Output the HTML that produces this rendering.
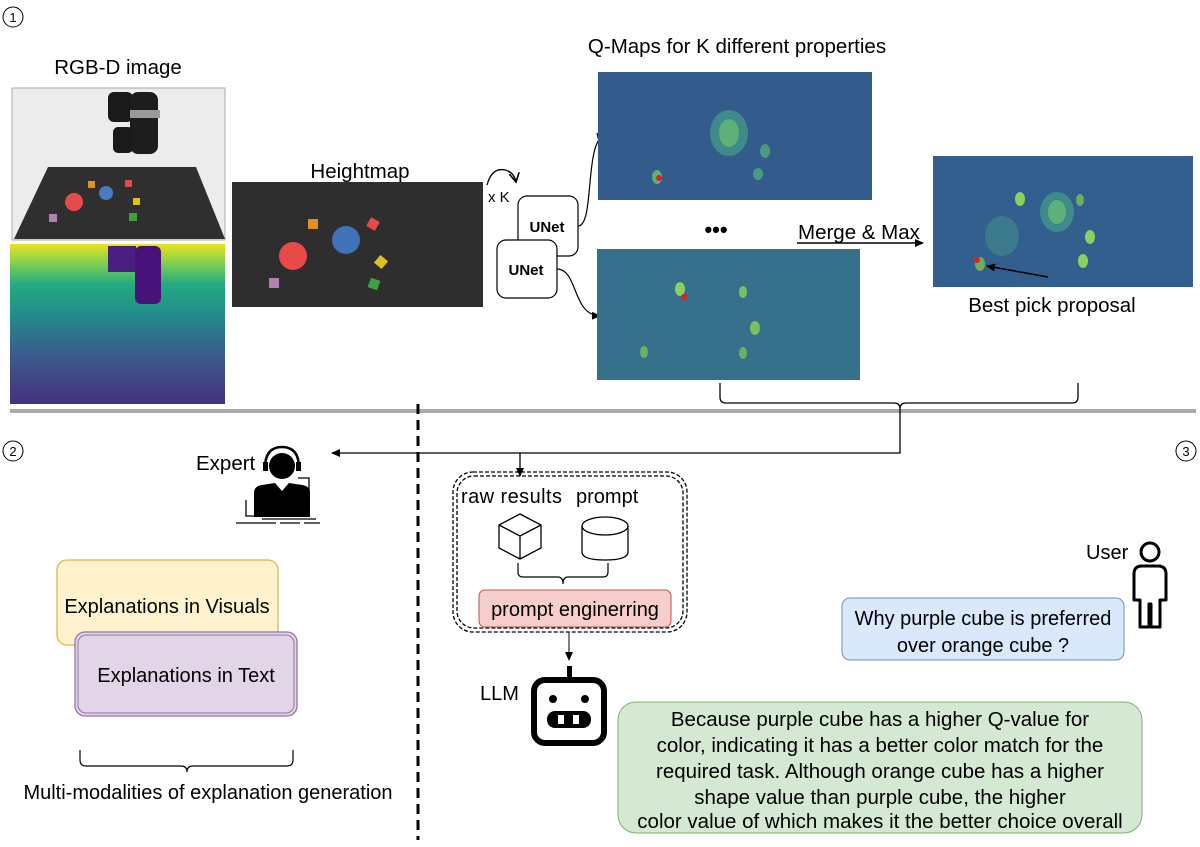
<!DOCTYPE html>
<html><head><meta charset="utf-8"><style>
html,body{margin:0;padding:0;background:#fff;}
svg{display:block;font-family:"Liberation Sans",Arial,sans-serif;}
</style></head><body>
<svg width="1200" height="847" viewBox="0 0 1200 847" xmlns="http://www.w3.org/2000/svg">
<defs>
<marker id="ar" markerWidth="10" markerHeight="10" refX="8" refY="5" orient="auto" markerUnits="userSpaceOnUse"><path d="M0,1 L9,5 L0,9 Z" fill="#000"/></marker>
<marker id="ar2" markerWidth="12" markerHeight="12" refX="10" refY="6" orient="auto" markerUnits="userSpaceOnUse"><path d="M1,1 L10,6 L1,11" fill="none" stroke="#000" stroke-width="1.6"/></marker>
<linearGradient id="depth" x1="0" y1="0" x2="0" y2="1">
<stop offset="0" stop-color="#e8e420"/><stop offset="0.12" stop-color="#7fd050"/><stop offset="0.25" stop-color="#25ab80"/><stop offset="0.45" stop-color="#238a8c"/><stop offset="0.7" stop-color="#3a5a8c"/><stop offset="1" stop-color="#46317e"/>
</linearGradient>
</defs>

<circle cx="13" cy="17" r="10" fill="none" stroke="#000" stroke-width="1"/><text x="13" y="22" font-size="13" text-anchor="middle">1</text>
<circle cx="13" cy="451" r="10" fill="none" stroke="#000" stroke-width="1"/><text x="13" y="456" font-size="13" text-anchor="middle">2</text>
<circle cx="1186" cy="451" r="10" fill="none" stroke="#000" stroke-width="1"/><text x="1186" y="456" font-size="13" text-anchor="middle">3</text>

<text x="118" y="74" font-size="20.5" text-anchor="middle">RGB-D image</text>
<rect x="12" y="88" width="213" height="152" fill="#ececec" stroke="#aaa"/>
<polygon points="48,167 196,167 225,239 14,239" fill="#2f2f2f"/>
<rect x="108" y="92" width="25" height="30" rx="6" fill="#1a1a1a"/>
<rect x="130" y="92" width="28" height="62" rx="8" fill="#1d1d1d"/>
<rect x="113" y="127" width="20" height="26" rx="5" fill="#1a1a1a"/>
<rect x="130" y="110" width="30" height="8" fill="#999"/>
<circle cx="74" cy="202" r="9" fill="#e84a4a"/><circle cx="106" cy="193" r="7" fill="#4a7ac0"/>
<rect x="88" y="181" width="7" height="7" fill="#e09020"/><rect x="125" y="180" width="7" height="7" fill="#e84a4a"/>
<rect x="133" y="198" width="7" height="7" fill="#e0c020"/><rect x="129" y="213" width="8" height="8" fill="#40a040"/><rect x="49" y="214" width="8" height="8" fill="#b080b0"/>
<rect x="10" y="244" width="215" height="160" fill="url(#depth)"/>
<rect x="108" y="246" width="28" height="26" fill="#4a1f80"/><rect x="135" y="246" width="26" height="58" rx="6" fill="#47127a"/>

<text x="360" y="178" font-size="20.5" text-anchor="middle">Heightmap</text>
<rect x="232" y="182" width="251" height="125" fill="#2e2e2e"/>
<circle cx="293" cy="256" r="14" fill="#e84a4a"/><circle cx="346" cy="240" r="14" fill="#3f72b8"/>
<rect x="308" y="219" width="10" height="10" fill="#e09020"/><rect x="368" y="219" width="10" height="10" fill="#e84a4a" transform="rotate(30 373 224)"/>
<rect x="376" y="257" width="10" height="10" fill="#e0c020" transform="rotate(40 381 262)"/><rect x="369" y="279" width="10" height="10" fill="#40a040" transform="rotate(20 374 284)"/><rect x="269" y="278" width="10" height="10" fill="#b080b0"/>

<path d="M487,185 Q492,167 505,170 Q514,172 516,182" fill="none" stroke="#000" stroke-width="1.3" marker-end="url(#ar2)"/>
<text x="488" y="202" font-size="15">x K</text>
<rect x="518" y="196" width="60" height="60" rx="9" fill="#fff" stroke="#000" stroke-width="1.2"/>
<text x="547" y="232" font-size="15" font-weight="bold" text-anchor="middle">UNet</text>
<rect x="497" y="240" width="60" height="58" rx="9" fill="#fff" stroke="#000" stroke-width="1.2"/>
<text x="526" y="275" font-size="15" font-weight="bold" text-anchor="middle">UNet</text>
<path d="M578,226 C595,226 584,140 605,135" fill="none" stroke="#000" stroke-width="1.2" marker-end="url(#ar)"/>
<path d="M557,269 C578,269 572,315 600,316" fill="none" stroke="#000" stroke-width="1.2" marker-end="url(#ar)"/>

<text x="737" y="53" font-size="20.5" text-anchor="middle">Q-Maps for K different properties</text>
<rect x="598" y="72" width="274" height="128" fill="#335b8c"/>
<ellipse cx="729" cy="133" rx="19" ry="23" fill="#3f8a8a"/><ellipse cx="729" cy="133" rx="10" ry="14" fill="#6cc070" opacity="0.7"/>
<ellipse cx="657" cy="177" rx="5" ry="7" fill="#5cb070"/><circle cx="659" cy="178" r="3" fill="#e02020"/>
<ellipse cx="765" cy="151" rx="5" ry="7" fill="#4a9a80"/><ellipse cx="758" cy="174" rx="5" ry="6" fill="#4a9a80"/>
<text x="716" y="237" font-size="22" text-anchor="middle" font-weight="bold">•••</text>
<rect x="597" y="249" width="263" height="131" fill="#36708a"/>
<ellipse cx="680" cy="289" rx="5" ry="7" fill="#8ad060"/><circle cx="684" cy="297" r="3" fill="#e02020"/>
<ellipse cx="743" cy="292" rx="4" ry="6" fill="#7ac060"/><ellipse cx="755" cy="328" rx="5" ry="7" fill="#7ac060"/>
<ellipse cx="743" cy="353" rx="4" ry="6" fill="#6ab060"/><ellipse cx="644" cy="352" rx="4" ry="6" fill="#6ab060"/>
<text x="798" y="239" font-size="20.5">Merge &amp; Max</text>
<line x1="797" y1="243" x2="923" y2="243" stroke="#000" stroke-width="1.5" marker-end="url(#ar)"/>
<rect x="933" y="156" width="260" height="131" fill="#335f8f"/>
<ellipse cx="1057" cy="212" rx="17" ry="20" fill="#3f8a8a"/><ellipse cx="1057" cy="212" rx="9" ry="12" fill="#6cc070" opacity="0.7"/>
<ellipse cx="1002" cy="236" rx="17" ry="20" fill="#3a7a8a"/>
<ellipse cx="1020" cy="199" rx="5" ry="7" fill="#8ad060"/><ellipse cx="1080" cy="200" rx="4" ry="6" fill="#6ab060"/>
<ellipse cx="1090" cy="237" rx="5" ry="7" fill="#8ad060"/><ellipse cx="1083" cy="261" rx="5" ry="7" fill="#8ad060"/>
<ellipse cx="980" cy="264" rx="5" ry="7" fill="#6ab060"/><circle cx="977" cy="260" r="3" fill="#e02020"/>
<line x1="1048" y1="277" x2="987" y2="266" stroke="#000" stroke-width="1.5" marker-end="url(#ar)"/>
<text x="1052" y="312" font-size="20.5" text-anchor="middle">Best pick proposal</text>

<path d="M720,383 L720,397 Q720,403 726,403 L894,403 Q900,403 900,409 Q900,403 906,403 L1072,403 Q1078,403 1078,397 L1078,383" fill="none" stroke="#000" stroke-width="1.3"/>

<rect x="10" y="409" width="1186" height="4" fill="#aaa"/>
<line x1="418" y1="404" x2="418" y2="840" stroke="#000" stroke-width="3" stroke-dasharray="10,6"/>

<polyline points="900,409 900,453 332,453" fill="none" stroke="#000" stroke-width="1.3" marker-end="url(#ar)"/>
<line x1="520" y1="453" x2="520" y2="476" stroke="#000" stroke-width="1.3" marker-end="url(#ar)"/>

<text x="196" y="470" font-size="20.5">Expert</text>
<path d="M265,468 Q265,447 282,447 Q299,447 299,468" fill="none" stroke="#000" stroke-width="2.5"/>
<circle cx="282" cy="466" r="13" fill="#000"/>
<rect x="263" y="462" width="5" height="9" fill="#000"/><rect x="296" y="462" width="5" height="9" fill="#000"/>
<path d="M254,517 L254,493 Q254,486 262,485 L275,483 L282,491 L289,483 L302,485 Q310,486 310,493 L310,517 Z" fill="#000"/>
<polyline points="298,478 309,478 309,495" fill="none" stroke="#000" stroke-width="1.3"/>
<polyline points="246,500 246,516 254,516" fill="none" stroke="#000" stroke-width="1.3"/>
<line x1="236" y1="523" x2="320" y2="523" stroke="#000" stroke-width="1.3" stroke-dasharray="40,4,20,4"/>
<line x1="262" y1="519" x2="316" y2="519" stroke="#000" stroke-width="1.3"/>

<rect x="57" y="560" width="221" height="85" rx="10" fill="#fff2cc" stroke="#d6b656" stroke-width="1.3"/>
<text x="167" y="613" font-size="20" text-anchor="middle">Explanations in Visuals</text>
<rect x="75" y="632" width="222" height="84" rx="10" fill="#e1d5e7" stroke="#9673a6" stroke-width="1.3"/>
<rect x="78" y="635" width="216" height="78" rx="8" fill="none" stroke="#9673a6" stroke-width="1"/>
<text x="186" y="682" font-size="20" text-anchor="middle">Explanations in Text</text>
<path d="M80,750 L80,760 Q80,766 86,766 L181,766 Q187,766 187,772 Q187,766 193,766 L287,766 Q293,766 293,760 L293,750" fill="none" stroke="#000" stroke-width="1.2"/>
<text x="208" y="799" font-size="20" text-anchor="middle">Multi-modalities of explanation generation</text>

<rect x="453" y="472" width="234" height="160" rx="20" fill="none" stroke="#000" stroke-width="1.3" stroke-dasharray="4,2"/>
<rect x="457" y="476" width="226" height="152" rx="17" fill="none" stroke="#000" stroke-width="1.3" stroke-dasharray="4,2"/>
<text x="461" y="503" font-size="20" textLength="101">raw results</text>
<text x="576" y="503" font-size="20">prompt</text>
<path d="M520,514 L541,525 L541,548 L520,559 L499,548 L499,525 Z M499,525 L520,536 L541,525 M520,536 L520,559" fill="none" stroke="#000" stroke-width="1.3"/>
<path d="M582,526 L582,552 Q582,560 605,560 Q628,560 628,552 L628,526" fill="none" stroke="#000" stroke-width="1.3"/>
<ellipse cx="605" cy="526" rx="23" ry="9" fill="none" stroke="#000" stroke-width="1.3"/>
<path d="M518,563 L518,572 Q518,577 523,577 L558,577 Q563,577 563,584 Q563,577 568,577 L603,577 Q608,577 608,572 L608,563" fill="none" stroke="#000" stroke-width="1.2"/>
<rect x="479" y="590" width="192" height="37" rx="6" fill="#f8cecc" stroke="#b85450" stroke-width="1"/>
<text x="575" y="616" font-size="20" text-anchor="middle">prompt enginerring</text>
<line x1="569" y1="632" x2="569" y2="660" stroke="#000" stroke-width="1" marker-end="url(#ar)"/>

<text x="480" y="700" font-size="20">LLM</text>
<rect x="567" y="666" width="5" height="12" fill="#000"/>
<rect x="534" y="680" width="70" height="63" rx="11" fill="#fff" stroke="#000" stroke-width="6"/>
<circle cx="553" cy="699" r="4" fill="#000"/><circle cx="585" cy="699" r="4" fill="#000"/>
<rect x="547" y="711" width="44" height="17" rx="8" fill="#000"/>
<rect x="558" y="715" width="6" height="9" fill="#fff"/><rect x="573" y="715" width="6" height="9" fill="#fff"/>

<text x="1086" y="559" font-size="20">User</text>
<circle cx="1150" cy="552" r="9" fill="none" stroke="#000" stroke-width="3"/>
<path d="M1134,600 L1134,574 Q1134,566 1142,566 L1158,566 Q1166,566 1166,574 L1166,600 L1160,600 L1160,627 L1151,627 L1151,604 L1149,604 L1149,627 L1140,627 L1140,600 Z" fill="none" stroke="#000" stroke-width="3" stroke-linejoin="round"/>

<rect x="842" y="598" width="282" height="62" rx="8" fill="#dae8fc" stroke="#6c8ebf" stroke-width="1"/>
<text x="983" y="625" font-size="20" text-anchor="middle">Why purple cube is preferred</text>
<text x="983" y="652" font-size="20" text-anchor="middle">over orange cube ?</text>

<rect x="618" y="702" width="524" height="131" rx="18" fill="#d5e8d4" stroke="#82b366" stroke-width="1"/>
<g font-size="20.5" text-anchor="middle">
<text x="880" y="726">Because purple cube has a higher Q-value for</text>
<text x="880" y="752">color, indicating it has a better color match for the</text>
<text x="880" y="778">required task. Although orange cube has a higher</text>
<text x="880" y="804">shape value than purple cube, the higher</text>
<text x="880" y="828">color value of which makes it the better choice overall</text>
</g>
</svg>
</body></html>
